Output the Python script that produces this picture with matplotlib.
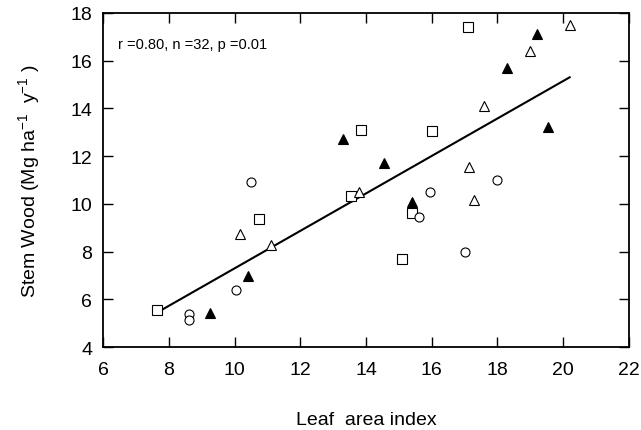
#!/usr/bin/env python3

import matplotlib
matplotlib.use('Agg')
import matplotlib.pyplot as plt

# leaf area index vs stem wood, four groups of stands
sq_lai = [7.65, 10.75, 13.55, 13.85, 16.0, 17.1, 15.4, 15.1]
sq_wood = [5.55, 9.35, 10.35, 13.1, 13.05, 17.4, 9.6, 7.7]

ci_lai = [8.6, 8.6, 10.05, 10.5, 15.95, 15.6, 17.0, 18.0]
ci_wood = [5.4, 5.15, 6.4, 10.9, 10.5, 9.45, 8.0, 11.0]

ot_lai = [10.15, 11.1, 13.8, 17.6, 17.15, 17.3, 19.0, 20.2]
ot_wood = [8.75, 8.3, 10.5, 14.1, 11.55, 10.15, 16.4, 17.5]

ft_lai = [9.25, 10.4, 13.3, 14.55, 15.4, 18.3, 19.2, 19.55]
ft_wood = [5.45, 7.0, 12.7, 11.7, 10.1, 15.7, 17.1, 13.2]

fit_lai = [7.7, 20.2]
fit_wood = [5.5, 15.3]

STATS = 'r =0.80, n =32, p =0.01'


def main():
    plt.rcParams['font.family'] = ['Liberation Sans', 'DejaVu Sans']
    plt.rcParams['mathtext.default'] = 'regular'

    fig = plt.figure(figsize=(6.41, 4.31), dpi=100)
    ax = fig.add_axes([0.161, 0.192, 0.820, 0.776])

    ax.plot(fit_lai, fit_wood, color='black', lw=1.5, zorder=2)
    ax.plot(sq_lai, sq_wood, ls='none', marker='s', ms=6.5, mfc='white', mec='black', mew=0.8, zorder=3)
    ax.plot(ci_lai, ci_wood, ls='none', marker='o', ms=6.5, mfc='white', mec='black', mew=0.8, zorder=3)
    ax.plot(ot_lai, ot_wood, ls='none', marker='^', ms=7, mfc='white', mec='black', mew=0.8, zorder=3)
    ax.plot(ft_lai, ft_wood, ls='none', marker='^', ms=7, mfc='black', mec='black', mew=0.8, zorder=3)

    ax.set_xlim(6, 22)
    ax.set_ylim(4, 18)
    ax.set_xticks(range(6, 23, 2))
    ax.set_yticks(range(4, 19, 2))
    ax.tick_params(direction='in', length=7, width=1, labelsize=14,
                   top=True, right=True)
    ax.tick_params(axis='x', pad=10)
    ax.tick_params(axis='y', pad=8)
    for s in ax.spines.values():
        s.set_linewidth(1.3)

    ax.text(6.45, 16.7, STATS, fontsize=10.5, va='center', ha='left')

    ax.set_xlabel('Leaf  area index', fontsize=14, labelpad=24)
    ax.set_ylabel('Stem Wood (Mg ha$^{-1}$  y$^{-1}$ )', fontsize=14, labelpad=20)

    fig.savefig('out.png', dpi=100)


if __name__ == '__main__':
    main()
